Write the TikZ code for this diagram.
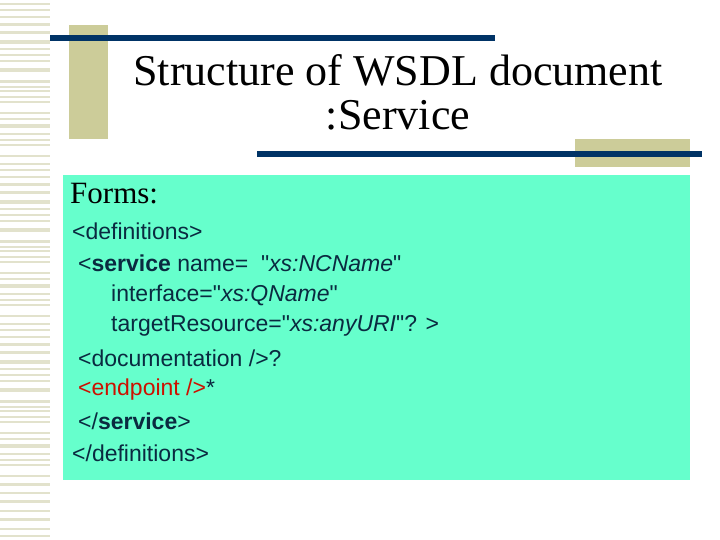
\documentclass[tikz,border=0pt]{standalone}
\usepackage{fontspec}
\setmainfont{Liberation Serif}
\newfontfamily\codefont{Liberation Sans}
\definecolor{navy}{HTML}{003366}
\definecolor{tan}{HTML}{CCCC99}
\definecolor{stripe}{HTML}{E2E2CC}
\definecolor{cyanbox}{HTML}{66FFCC}
\definecolor{codec}{HTML}{0A2A40}
\definecolor{redc}{HTML}{CC1100}
\tikzset{codeline/.style={anchor=west,inner sep=0pt,font=\codefont\fontsize{23}{27}\selectfont,text=codec},
 titleline/.style={inner sep=0pt,font=\fontsize{44}{48}\selectfont,text=black}}
\begin{document}
\begin{tikzpicture}[x=1pt,y=-1pt]
\useasboundingbox (0,0) rectangle (720,540);
\fill[white] (0,0) rectangle (720,540);
% stripes
\foreach \a/\b in {3/5,9/11,16/18,23/26,31/34,40/44,48/50,54/56,60/62,68/72,80/83,86/88,90/92,96/98,101/103,112/114,118/120,124/128,133/135,139/141,144/146,155/157}{
  \fill[stripe] (0,\a) rectangle (50,\b);
  \fill[stripe] (0,\a+160) rectangle (50,\b+160);
  \fill[stripe] (0,\a+320) rectangle (50,\b+320);
}
\foreach \a/\b in {483/486,492/494,500/503,510/512,518/521,528/530,535/537}{\fill[stripe] (0,\a) rectangle (50,\b);}
% decorations
\fill[tan] (69,25) rectangle (108,139);
\fill[navy] (50,35) rectangle (495,41);
\fill[tan] (575,139) rectangle (690,167);
\fill[navy] (257,151) rectangle (702,157);
\node[titleline] (t1) at (398,70) {Structure of WSDL document};
\node[titleline] (t2) at (398,115) {:Service};
% content box
\fill[cyanbox] (63,175) rectangle (690,480);
\node[anchor=west,inner sep=0pt,font=\fontsize{31}{35}\selectfont] (forms) at (70,194) {Forms:};
\node[codeline] (l1) at (72,231) {<definitions>};
\node[codeline] (l2) at (78,263) {<\textbf{service} name=~ "\textit{xs:NCName}"};
\node[codeline] (l3) at (111,295) {interface="\textit{xs:QName}"};
\node[codeline] (l4) at (111,326) {targetResource="\textit{xs:anyURI}"? >};
\node[codeline] (l5) at (78,358) {<documentation />?};
\node[codeline] (l6) at (78,390) {\textcolor{redc}{<endpoint />}*};
\node[codeline] (l7) at (78,421) {</\textbf{service}>};
\node[codeline] (l8) at (72,453) {</definitions>};
\end{tikzpicture}
\end{document}
